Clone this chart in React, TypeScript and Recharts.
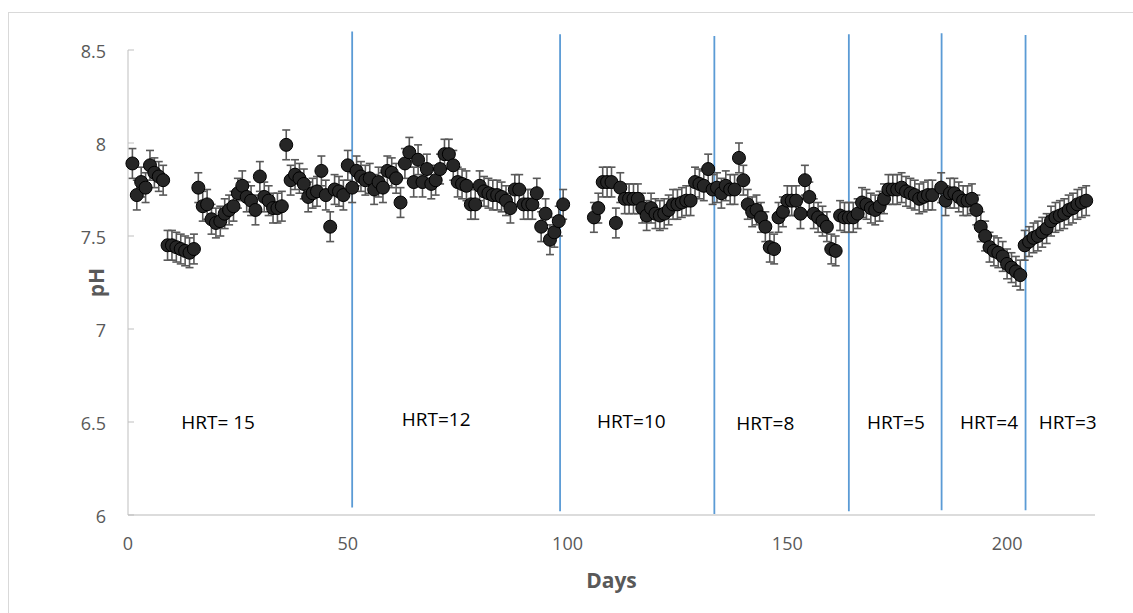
import {
  ScatterChart,
  Scatter,
  XAxis,
  YAxis,
  ErrorBar,
  ReferenceLine,
  ReferenceDot,
  Label,
} from "recharts";

// sampling days and measured pH (mean of replicates)
const DAYS = [
  1, 2, 3, 4, 5, 6, 7, 8, 9, 10, 11, 12, 13, 14, 15, 16, 17, 18, 19, 20,
  21, 22, 23, 24, 25, 26, 27, 28, 29, 30, 31, 32, 33, 34, 35, 36, 37, 38, 39, 40,
  41, 42, 43, 44, 45, 46, 47, 48, 49, 50, 51, 52, 53, 54, 55, 56, 57, 58, 59, 60,
  61, 62, 63, 64, 65, 66, 67, 68, 69, 70, 71, 72, 73, 74, 75, 76, 77, 78, 79, 80,
  81, 82, 83, 84, 85, 86, 87, 88, 89, 90, 91, 92, 93, 94, 95, 96, 97, 98, 99,
  106, 107, 108, 109, 110, 111, 112, 113, 114, 115, 116, 117, 118, 119, 120,
  121, 122, 123, 124, 125, 126, 127, 128, 129, 130, 131, 132, 133, 134, 135, 136, 137, 138, 139, 140,
  141, 142, 143, 144, 145, 146, 147, 148, 149, 150, 151, 152, 153, 154, 155, 156, 157, 158, 159, 160,
  161, 162, 163, 164, 165, 166, 167, 168, 169, 170, 171, 172, 173, 174, 175, 176, 177, 178, 179, 180,
  181, 182, 183, 185, 186, 187, 188, 189, 190, 191, 192, 193, 194, 195, 196, 197, 198, 199, 200,
  201, 202, 203, 204, 205, 206, 207, 208, 209, 210, 211, 212, 213, 214, 215, 216, 217, 218,
];

const PH = [
  7.89, 7.72, 7.79, 7.76, 7.88, 7.84, 7.82, 7.8, 7.45, 7.45, 7.44, 7.43, 7.42, 7.41, 7.43, 7.76, 7.66, 7.67, 7.59, 7.57,
  7.58, 7.62, 7.64, 7.66, 7.73, 7.77, 7.71, 7.69, 7.64, 7.82, 7.71, 7.69, 7.65, 7.65, 7.66, 7.99, 7.8, 7.83, 7.81, 7.78,
  7.71, 7.73, 7.74, 7.85, 7.72, 7.55, 7.75, 7.74, 7.72, 7.88, 7.76, 7.85, 7.82, 7.8, 7.81, 7.75, 7.79, 7.76, 7.85, 7.84,
  7.81, 7.68, 7.89, 7.95, 7.79, 7.91, 7.79, 7.86, 7.78, 7.8, 7.86, 7.94, 7.94, 7.88, 7.79, 7.78, 7.77, 7.67, 7.67, 7.77,
  7.74, 7.73, 7.72, 7.72, 7.71, 7.69, 7.65, 7.75, 7.75, 7.67, 7.67, 7.67, 7.73, 7.55, 7.62, 7.48, 7.52, 7.58, 7.67,
  7.6, 7.65, 7.79, 7.79, 7.79, 7.57, 7.76, 7.7, 7.7, 7.7, 7.7, 7.65, 7.61, 7.65, 7.62,
  7.61, 7.62, 7.64, 7.67, 7.67, 7.68, 7.69, 7.69, 7.79, 7.78, 7.77, 7.86, 7.75, 7.76, 7.73, 7.77, 7.75, 7.75, 7.92, 7.8,
  7.67, 7.63, 7.64, 7.6, 7.55, 7.44, 7.43, 7.6, 7.63, 7.69, 7.69, 7.69, 7.62, 7.8, 7.71, 7.62, 7.6, 7.58, 7.55, 7.43,
  7.42, 7.61, 7.6, 7.6, 7.6, 7.62, 7.68, 7.67, 7.65, 7.64, 7.66, 7.7, 7.75, 7.75, 7.75, 7.76, 7.74, 7.73, 7.72, 7.7,
  7.71, 7.72, 7.72, 7.76, 7.69, 7.73, 7.73, 7.71, 7.69, 7.69, 7.7, 7.64, 7.55, 7.5, 7.44, 7.42, 7.41, 7.39, 7.35,
  7.33, 7.31, 7.29, 7.45, 7.47, 7.49, 7.5, 7.52, 7.54, 7.58, 7.6, 7.61, 7.62, 7.64, 7.65, 7.67, 7.68, 7.69,
];

const PH_ERROR = 0.08;

const X_TICKS = [0, 50, 100, 150, 200];
const Y_TICKS = [6, 6.5, 7, 7.5, 8, 8.5];

// days where the hydraulic retention time was changed
const PHASE_DAYS = [51.0, 98.3, 133.4, 164.0, 185.1, 204.2];
const PHASE_TOP = [8.6, 8.585, 8.575, 8.585, 8.59, 8.58];
const PHASE_BOTTOM = [6.04, 6.02, 6.005, 6.02, 6.025, 6.025];

const HRT_TEXT = ["HRT= 15", "HRT=12", "HRT=10", "HRT=8", "HRT=5", "HRT=4", "HRT=3"];
const HRT_DAY = [20.5, 70.1, 114.5, 145, 174.7, 195.9, 213.8];
const HRT_PH = [6.5, 6.517, 6.505, 6.495, 6.5, 6.5, 6.5];

const AXIS_GREY = "#595959";
const FONT = "'Open Sans', sans-serif";

const data = DAYS.map((day, i) => ({ day, ph: PH[i], err: PH_ERROR }));

function YTick({ x, y, payload }: { x: number; y: number; payload: { value: number } }) {
  return (
    <g>
      <line x1={x + 22} x2={x + 28} y1={y} y2={y} stroke="#bfbfbf" strokeWidth={1} />
      <text x={x} y={y} dy="0.42em" textAnchor="end" fontSize={18} fill={AXIS_GREY} fontFamily={FONT}>
        {payload.value}
      </text>
    </g>
  );
}

function Dot({ cx, cy }: { cx?: number; cy?: number }) {
  if (cx == null || cy == null) return null;
  return <circle cx={cx} cy={cy} r={6.5} fill="#262626" stroke="#000" strokeWidth={1} />;
}

function DaysTitle(props: any) {
  const vb = props.viewBox ?? { x: 128, y: 515, width: 967 };
  return (
    <text
      x={vb.x + vb.width / 2}
      y={vb.y + 65}
      textAnchor="middle"
      dominantBaseline="central"
      fontSize={21}
      fontWeight={700}
      fill={AXIS_GREY}
      fontFamily={FONT}
    >
      Days
    </text>
  );
}

function PhTitle(props: any) {
  const vb = props.viewBox ?? { x: 0, y: 50, height: 465 };
  const cx = vb.x + 96;
  const cy = vb.y + vb.height / 2;
  return (
    <text
      x={cx}
      y={cy}
      transform={`rotate(-90 ${cx} ${cy})`}
      textAnchor="middle"
      dominantBaseline="central"
      fontSize={21}
      fontWeight={700}
      fill={AXIS_GREY}
      fontFamily={FONT}
    >
      pH
    </text>
  );
}

export default function App() {
  return (
    <div style={{ position: "relative", width: 1133, height: 613, overflow: "hidden", background: "#fff" }}>
      <style>{"body{margin:0;overflow:hidden;}"}</style>
      <div
        style={{
          position: "absolute",
          left: 8,
          top: 12,
          width: 1160,
          height: 640,
          border: "1px solid #d9d9d9",
        }}
      />
      <div style={{ position: "absolute", left: 0, top: 0 }}>
        <ScatterChart
          width={1133}
          height={613}
          margin={{ top: 50, right: 38, bottom: 18, left: 0 }}
          style={{ fontFamily: FONT }}
        >
          <XAxis
            type="number"
            dataKey="day"
            domain={[0, 220]}
            ticks={X_TICKS}
            height={80}
            tickLine={false}
            tickSize={0}
            tickMargin={22}
            axisLine={{ stroke: "#d0d0d0", strokeWidth: 1.6 }}
            tick={{ fontSize: 18, fill: AXIS_GREY, fontFamily: FONT }}
          >
            <Label content={DaysTitle} />
          </XAxis>
          <YAxis
            type="number"
            dataKey="ph"
            domain={[6, 8.5]}
            ticks={Y_TICKS}
            width={128}
            tickLine={false}
            tickSize={0}
            tickMargin={22}
            axisLine={{ stroke: "#bfbfbf", strokeWidth: 1 }}
            tick={YTick}
          >
            <Label content={PhTitle} />
          </YAxis>
          {PHASE_DAYS.map((d, i) => (
            <ReferenceLine
              key={`phase-${d}`}
              segment={[
                { x: d, y: PHASE_BOTTOM[i] },
                { x: d, y: PHASE_TOP[i] },
              ]}
              stroke="#5b9bd5"
              strokeWidth={1.8}
              ifOverflow="visible"
            />
          ))}
          {HRT_TEXT.map((t, i) => (
            <ReferenceDot
              key={t}
              x={HRT_DAY[i]}
              y={HRT_PH[i]}
              r={0}
              fill="none"
              stroke="none"
              ifOverflow="visible"
              label={{ value: t, position: "center", fill: "#000", fontSize: 19, fontFamily: FONT }}
            />
          ))}
          <Scatter data={data} shape={<Dot />} isAnimationActive={false}>
            <ErrorBar dataKey="err" direction="y" width={4} stroke="#595959" strokeWidth={1.6} />
          </Scatter>
        </ScatterChart>
      </div>
    </div>
  );
}
